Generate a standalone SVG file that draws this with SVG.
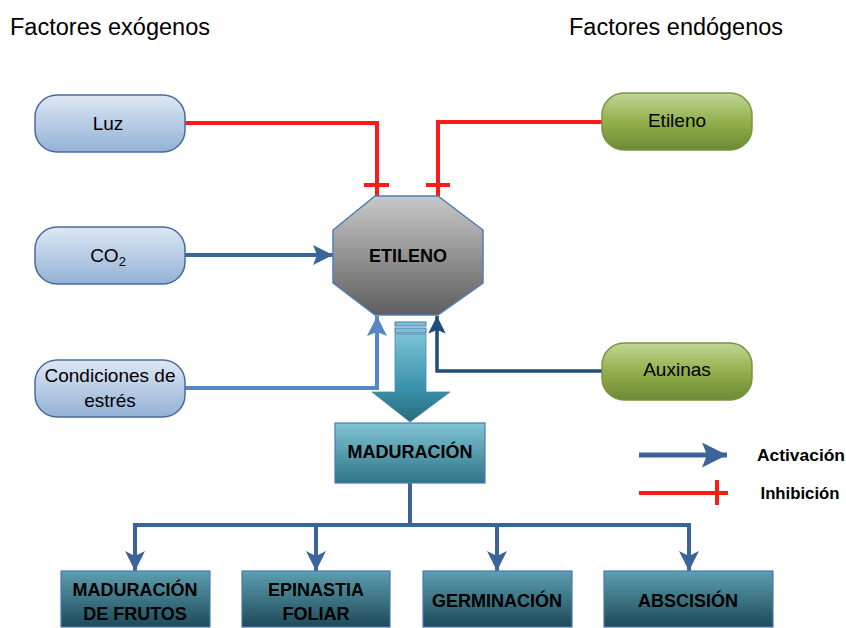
<svg xmlns="http://www.w3.org/2000/svg" width="846" height="628" viewBox="0 0 846 628">
<defs>
<linearGradient id="gBlue" x1="0" y1="0" x2="0" y2="1"><stop offset="0" stop-color="#dee8f4"/><stop offset="1" stop-color="#93b1d6"/></linearGradient>
<linearGradient id="gGreen" x1="0" y1="0" x2="0" y2="1"><stop offset="0" stop-color="#c0d696"/><stop offset="0.5" stop-color="#93b04c"/><stop offset="1" stop-color="#6c8a34"/></linearGradient>
<linearGradient id="gGray" x1="0" y1="0" x2="0" y2="1"><stop offset="0" stop-color="#c8c8c8"/><stop offset="1" stop-color="#5e5e5e"/></linearGradient>
<linearGradient id="gTeal" x1="0" y1="0" x2="0" y2="1"><stop offset="0" stop-color="#80c4d4"/><stop offset="1" stop-color="#2f7486"/></linearGradient>
<linearGradient id="gTealDark" x1="0" y1="0" x2="0" y2="1"><stop offset="0" stop-color="#5d9fb0"/><stop offset="1" stop-color="#1d4a59"/></linearGradient>
<linearGradient id="gArrow" x1="0" y1="0" x2="0" y2="1"><stop offset="0" stop-color="#7cc3d6"/><stop offset="0.6" stop-color="#3a93ab"/><stop offset="1" stop-color="#2a6a7c"/></linearGradient>
<marker id="mBlue" viewBox="0 0 10 10" refX="10" refY="5" markerWidth="5" markerHeight="5" orient="auto" markerUnits="strokeWidth"><path d="M0,0 L10,5 L0,10 L2,5 Z" fill="#3b6598"/></marker>
<marker id="mBig" viewBox="0 0 10 10" refX="10" refY="5" markerWidth="5" markerHeight="6" orient="auto" markerUnits="strokeWidth"><path d="M0,0 L10,5 L0,10 L2.5,5 Z" fill="#3b6598"/></marker>
<marker id="mLight" viewBox="0 0 10 10" refX="10" refY="5" markerWidth="5" markerHeight="5" orient="auto" markerUnits="strokeWidth"><path d="M0,0 L10,5 L0,10 L2,5 Z" fill="#5686c3"/></marker>
<marker id="mDark" viewBox="0 0 10 10" refX="10" refY="5" markerWidth="5" markerHeight="5" orient="auto" markerUnits="strokeWidth"><path d="M0,0 L10,5 L0,10 L2,5 Z" fill="#214c7e"/></marker>
</defs>
<style>
.t{font-family:"Liberation Sans",Arial,sans-serif;fill:#000;text-anchor:middle}
.title{font-family:"Liberation Sans",Arial,sans-serif;font-size:23px;fill:#000}
.nb{font-size:19px}
.bold{font-weight:bold;font-size:18px}
.bx{fill:url(#gBlue);stroke:#4a6b9a;stroke-width:1.5}
.gx{fill:url(#gGreen);stroke:#7a9440;stroke-width:1.5}
.tb{fill:url(#gTealDark);stroke:#4a7ab4;stroke-width:1.2}
.red{fill:none;stroke:#ff1a1a;stroke-width:4}
.blue{fill:none;stroke:#3b6598;stroke-width:4}
</style>
<text class="title" x="10" y="35" textLength="200" lengthAdjust="spacingAndGlyphs">Factores exógenos</text>
<text class="title" x="569" y="35" textLength="214" lengthAdjust="spacingAndGlyphs">Factores endógenos</text>

<g id="connectors">
<path class="red" d="M185,123 H377 V196"/>
<path class="red" d="M364,185 H389"/>
<path class="red" d="M602,122 H438 V196" stroke-width="3.5"/>
<path class="red" d="M426,185 H450"/>
<path class="blue" d="M185,255 H333" marker-end="url(#mBlue)"/>
<path d="M185,388 H377 V316" fill="none" stroke="#5686c3" stroke-width="4" marker-end="url(#mLight)"/>
<path d="M602,371 H437 V316" fill="none" stroke="#214c7e" stroke-width="3.5" marker-end="url(#mDark)"/>
<path class="blue" d="M410,483 V525"/>
<path class="blue" d="M135,525 H689"/>
<path class="blue" d="M135,523 V571" marker-end="url(#mBig)"/>
<path class="blue" d="M316,525 V571" marker-end="url(#mBig)"/>
<path class="blue" d="M497,525 V571" marker-end="url(#mBig)"/>
<path class="blue" d="M689,523 V571" marker-end="url(#mBig)"/>
<g id="bigArrow">
<rect x="395" y="322" width="31" height="4" fill="#7cc3d6" stroke="#4a7ab4" stroke-width="1"/>
<rect x="395" y="328" width="31" height="5" fill="#7cc3d6" stroke="#4a7ab4" stroke-width="1"/>
<path d="M395,334 H426 V392 H450 L410,422 L372,392 H395 Z" fill="url(#gArrow)" stroke="#4a8aa6" stroke-width="0.8"/>
</g>
</g>

<g id="luz"><rect class="bx" x="35" y="95" width="150" height="57" rx="22"/><text class="t nb" x="108" y="130">Luz</text></g>
<g id="co2"><rect class="bx" x="35" y="227" width="150" height="57" rx="22"/><text class="t nb" x="108" y="262">CO<tspan font-size="13" dy="4">2</tspan></text></g>
<g id="estres"><rect class="bx" x="35" y="360" width="150" height="57" rx="22"/><text class="t nb" x="110" y="382">Condiciones de</text><text class="t nb" x="110" y="407">estrés</text></g>
<g id="etilenoEnd"><rect class="gx" x="602" y="93" width="150" height="57" rx="22"/><text class="t nb" x="677" y="127">Etileno</text></g>
<g id="auxinas"><rect class="gx" x="602" y="343" width="150" height="57" rx="22"/><text class="t nb" x="677" y="376">Auxinas</text></g>

<g id="etileno"><path d="M375,196 H438 L483,230 V283 L438,315 H375 L333,283 V230 Z" fill="url(#gGray)" stroke="#4f7db8" stroke-width="1.5"/><text class="t" x="408" y="262" font-weight="bold" font-size="18">ETILENO</text></g>

<g id="maduracion"><rect x="335" y="423" width="150" height="60" fill="url(#gTeal)" stroke="#4a7ab4" stroke-width="1.2"/><text class="t bold" x="410" y="458">MADURACIÓN</text></g>

<g id="frutos"><rect class="tb" x="61" y="571" width="149" height="56"/><text class="t bold" x="135" y="596">MADURACIÓN</text><text class="t bold" x="135" y="620">DE FRUTOS</text></g>
<g id="epinastia"><rect class="tb" x="242" y="571" width="148" height="56"/><text class="t bold" x="316" y="596">EPINASTIA</text><text class="t bold" x="316" y="620">FOLIAR</text></g>
<g id="germinacion"><rect class="tb" x="423" y="571" width="149" height="56"/><text class="t bold" x="497" y="607">GERMINACIÓN</text></g>
<g id="abscision"><rect class="tb" x="604" y="571" width="169" height="56"/><text class="t bold" x="688" y="607">ABSCISIÓN</text></g>

<g id="legend">
<path d="M639,455 H727" fill="none" stroke="#3b6598" stroke-width="5" marker-end="url(#mBlue)"/>
<text class="t" x="801" y="461" font-size="16" font-weight="bold" textLength="88" lengthAdjust="spacingAndGlyphs">Activación</text>
<path d="M639,493 H728" class="red"/>
<path d="M717,480 V505" class="red"/>
<text class="t" x="800" y="499" font-size="16" font-weight="bold" textLength="79" lengthAdjust="spacingAndGlyphs">Inhibición</text>
</g>
</svg>
